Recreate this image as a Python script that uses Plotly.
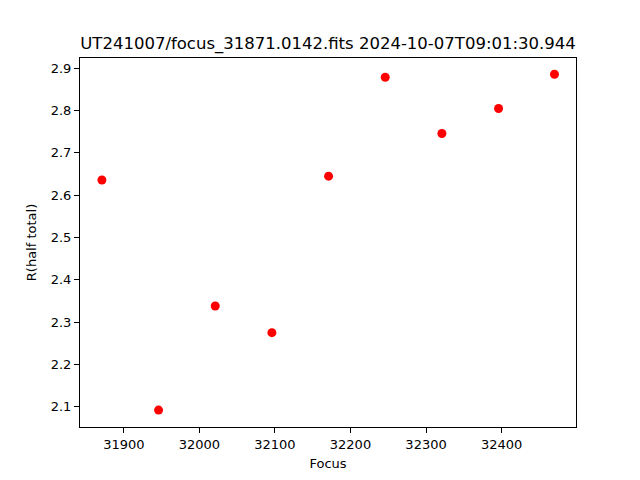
import plotly.graph_objects as go

focus = [31871, 31946, 32021, 32096, 32171, 32246, 32321, 32396, 32470]
r_half = [2.636, 2.092, 2.338, 2.275, 2.645, 2.879, 2.746, 2.805, 2.886]
title_text = "UT241007/focus_31871.0142.fits 2024-10-07T09:01:30.944"

fig = go.Figure(go.Scatter(x=focus, y=r_half, mode="markers",
                           marker=dict(color="red", size=9, line=dict(width=0))))

font = "DejaVu Sans"
fig.update_layout(
    width=640, height=480,
    margin=dict(l=80, r=64, t=58, b=53, autoexpand=False),
    paper_bgcolor="white", plot_bgcolor="white",
    font=dict(family=font, color="black", size=13),
    title=dict(text=title_text, x=0.5, xref="paper", y=1 - 43/480, yref="container",
               xanchor="center", yanchor="middle", automargin=False,
               font=dict(size=16.5, family=font, color="black")),
    showlegend=False,
)
fig.update_xaxes(range=[31842.0, 32498.5], dtick=100, tick0=31900, tickformat="d",
                 showgrid=False, zeroline=False, automargin=False,
                 showline=True, linecolor="black", linewidth=1, mirror=True,
                 ticks="outside", ticklen=5, tickcolor="black", tickfont=dict(size=13),
                 title=dict(text="Focus", font=dict(size=13), standoff=8))
fig.update_yaxes(range=[2.052, 2.9244], dtick=0.1, tick0=2.0, tickformat=".1f", showgrid=False,
                 zeroline=False, automargin=False, showline=True, linecolor="black", linewidth=1,
                 mirror=True, ticks="outside", ticklen=5, tickcolor="black", tickfont=dict(size=13),
                 title=dict(text="R(half total)", font=dict(size=13), standoff=11))

fig.write_html("out.html", config={"displayModeBar": False},
               post_script="document.body.style.margin='0';document.body.style.overflow='hidden';")
